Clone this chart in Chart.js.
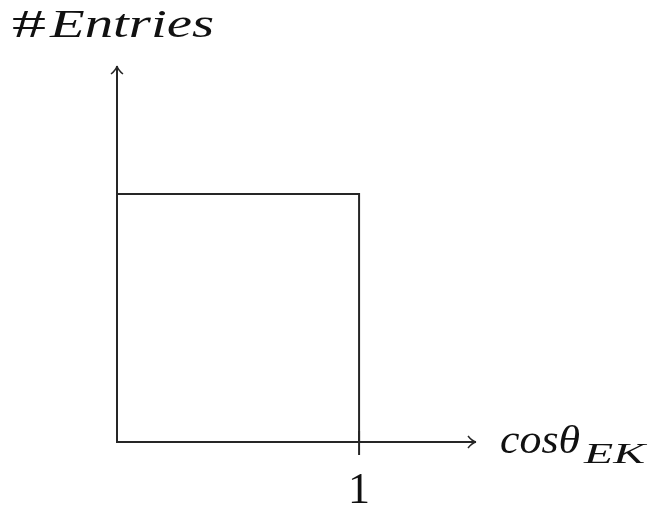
<!DOCTYPE html>
<html>
<head>
<meta charset="utf-8">
<script src="https://cdn.jsdelivr.net/npm/chart.js@4"></script>
<style>
  body { margin: 0; background: #fff; }
  #wrap { width: 651px; height: 507px; }
</style>
</head>
<body>
<div id="wrap"><canvas id="hist"></canvas></div>
<script>
// histogram: bin edges and counts per bin (normalised)
const binEdges = [0, 1];
const binCounts = [1];
const xTicks = [1];
const xTitle = ["cos\u03B8", "EK"];
const yTitle = ["#", "Entries"];

// one point per edge, the last one drops back to zero
const stepPoints = binEdges.map((e, i) => ({ x: e, y: i < binCounts.length ? binCounts[i] : 0 }));

const ink = "#262626";

// draw text squeezed/stretched to a given width
function fitText(ctx, txt, font, x, y, w) {
  ctx.save();
  ctx.font = font;
  const m = ctx.measureText(txt).width;
  ctx.translate(x, y);
  ctx.scale(w / m, 1);
  ctx.fillText(txt, 0, 0);
  ctx.restore();
}

function arrowTip(ctx, x, y, dir) {
  // open latex-like arrow head, dir: "up" or "right"
  ctx.save();
  ctx.lineWidth = 1.5;
  ctx.beginPath();
  if (dir === "right") {
    ctx.moveTo(x - 8, y - 6); ctx.quadraticCurveTo(x - 4, y - 1, x, y);
    ctx.moveTo(x - 8, y + 6); ctx.quadraticCurveTo(x - 4, y + 1, x, y);
  } else {
    ctx.moveTo(x - 6, y + 8); ctx.quadraticCurveTo(x - 1, y + 4, x, y);
    ctx.moveTo(x + 6, y + 8); ctx.quadraticCurveTo(x + 1, y + 4, x, y);
  }
  ctx.stroke();
  ctx.restore();
}

const axesPlugin = {
  id: "texAxes",
  afterDraw(chart) {
    const { ctx, chartArea: a, scales } = chart;
    const x0 = scales.x.getPixelForValue(0);
    const y0 = scales.y.getPixelForValue(0);
    ctx.save();
    ctx.strokeStyle = ink;
    ctx.fillStyle = "#111";
    ctx.lineWidth = 2;
    ctx.lineCap = "butt";

    ctx.beginPath();
    ctx.moveTo(x0, y0 + 1); ctx.lineTo(x0, a.top);
    ctx.moveTo(x0 - 1, y0); ctx.lineTo(a.right, y0);
    ctx.stroke();
    arrowTip(ctx, x0, a.top, "up");
    arrowTip(ctx, a.right, y0, "right");

    ctx.textBaseline = "alphabetic";
    xTicks.forEach(v => {
      const px = scales.x.getPixelForValue(v);
      ctx.beginPath();
      ctx.moveTo(px, y0 - 11); ctx.lineTo(px, y0 + 13);
      ctx.stroke();
      fitText(ctx, String(v), "45px 'Liberation Serif'", px - 11, 503, 22);
    });

    // axis titles
    fitText(ctx, xTitle[0], "italic 40px 'Liberation Serif'", 500, 453, 80);
    fitText(ctx, xTitle[1], "italic 29px 'Liberation Serif'", 584, 463, 61);
    fitText(ctx, yTitle[0], "40px 'Liberation Serif'", 12, 37, 34);
    fitText(ctx, yTitle[1], "italic 41px 'Liberation Serif'", 50, 37, 164);
    ctx.restore();
  }
};

new Chart(document.getElementById("hist"), {
  type: "line",
  data: {
    datasets: [{
      data: stepPoints,
      stepped: "before",
      borderColor: ink,
      borderWidth: 2,
      pointRadius: 0,
      fill: false
    }]
  },
  options: {
    responsive: true,
    maintainAspectRatio: false,
    animation: false,
    layout: { padding: { left: 117, right: 175, top: 66, bottom: 65 } },
    scales: {
      x: { type: "linear", min: 0, max: 1.483, display: false },
      y: { type: "linear", min: 0, max: 1.516, display: false }
    },
    plugins: { legend: { display: false }, tooltip: { enabled: false } }
  },
  plugins: [axesPlugin]
});
</script>
</body>
</html>
